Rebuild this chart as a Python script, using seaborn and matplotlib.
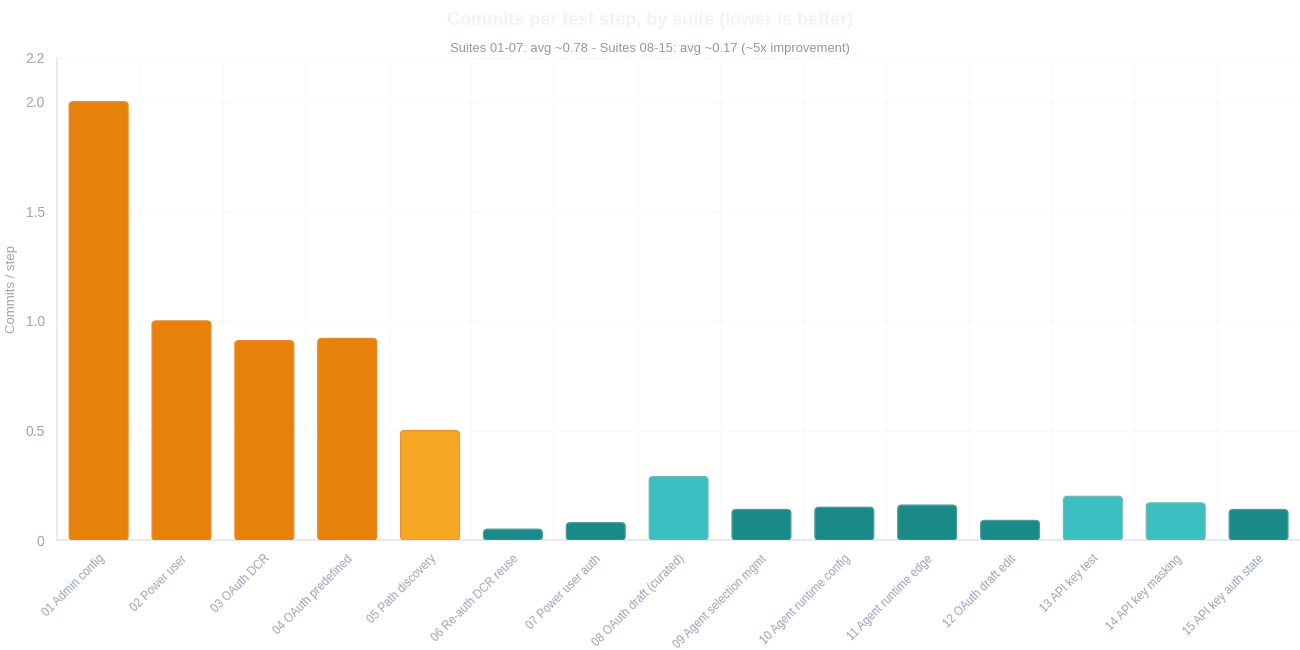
import matplotlib
matplotlib.use("Agg")
import matplotlib.pyplot as plt
import seaborn as sns
import pandas as pd
from matplotlib.patches import FancyBboxPatch

# values
suites = [
    "01 Admin config", "02 Power user", "03 OAuth DCR", "04 OAuth predefined",
    "05 Path discovery", "06 Re-auth DCR reuse", "07 Power user auth",
    "08 OAuth draft (curated)", "09 Agent selection mgmt", "10 Agent runtime config",
    "11 Agent runtime edge", "12 OAuth draft edit", "13 API key test",
    "14 API key masking", "15 API key auth state",
]
commits_per_step = [2.0, 1.0, 0.91, 0.92, 0.50, 0.05, 0.08,
                    0.29, 0.14, 0.15, 0.16, 0.09, 0.20, 0.17, 0.14]
tier = ["high", "high", "high", "high", "mid", "low", "low",
        "light", "low", "low", "low", "low", "light", "light", "low"]

tier_colors = {"high": "#E8800C", "mid": "#F5A623", "low": "#1A8A88", "light": "#3BBFC0"}
tier_edges = {"high": "#E58A22", "mid": "#E8962E", "low": "#4E9C9B", "light": "#72B9B9"}

df = pd.DataFrame({"suite": suites, "value": commits_per_step, "tier": tier})

sns.set_theme(style="white")
plt.rcParams['font.family'] = ['Liberation Sans', 'DejaVu Sans']

fig = plt.figure(figsize=(13, 6.5), dpi=100)
ax = fig.add_axes([0.044, 0.169, 0.956, 0.742])

sns.barplot(data=df, x="suite", y="value", hue="suite",
            palette=[tier_colors[t] for t in tier], legend=False,
            width=0.71, ax=ax)

# swap plain bars for slightly rounded ones
bars = list(ax.patches)
for bar, t in zip(bars, tier):
    x, y = bar.get_x(), bar.get_y()
    w, h = bar.get_width(), bar.get_height()
    rounded = FancyBboxPatch((x, y), w, h,
                             boxstyle="round,pad=0,rounding_size=0.05",
                             mutation_aspect=0.33,
                             facecolor=tier_colors[t], edgecolor=tier_edges[t],
                             linewidth=0.9, zorder=3)
    bar.remove()
    ax.add_patch(rounded)

ax.set_xlim(-0.5, len(suites) - 0.5)
ax.set_ylim(0, 2.2)
ax.set_yticks([0, 0.5, 1.0, 1.5, 2.0, 2.2])
ax.set_yticklabels(["0", "0.5", "1.0", "1.5", "2.0", "2.2"])

# barely visible grid
ax.set_xticks([i + 0.5 for i in range(len(suites) - 1)], minor=True)
ax.grid(True, which="minor", axis="x", color="#F8F9FA", linewidth=0.8, zorder=0)
ax.grid(True, which="major", axis="y", color="#F8F9FA", linewidth=0.8, zorder=0)
ax.set_axisbelow(True)

ax.tick_params(axis="both", which="both", length=0, colors="#9AA3B5")
ax.tick_params(axis="y", labelsize=10, pad=9)
ax.tick_params(axis="x", labelsize=8.3, pad=9)
plt.setp(ax.get_xticklabels(), rotation=45, ha="right", rotation_mode="anchor")

for side in ["top", "right"]:
    ax.spines[side].set_visible(False)
ax.spines["left"].set_color("#E6E8EB")
ax.spines["bottom"].set_color("#E3E6E9")
ax.spines["bottom"].set_linewidth(1.2)

ax.set_xlabel("")
ax.set_ylabel("")
fig.text(0.0095, 0.555, "Commits / step", rotation=90, ha="center", va="center",
         fontsize=9.5, color="#9AA3B5")

fig.text(0.5, 0.968, "Commits per test step, by suite (lower is better)",
         ha="center", va="center", fontsize=13, fontweight="bold", color="#F1F3F6")
fig.text(0.5, 0.924, "Suites 01-07: avg ~0.78 - Suites 08-15: avg ~0.17 (~5x improvement)",
         ha="center", va="center", fontsize=9.4, color="#8E98AC")

fig.savefig("out.png", dpi=100, facecolor="white")
